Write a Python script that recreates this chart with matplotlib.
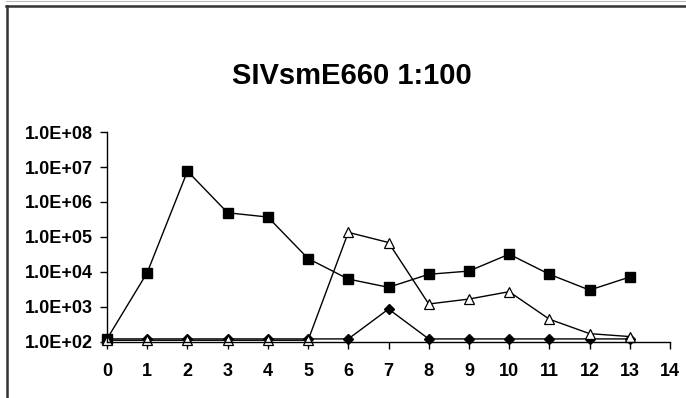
import math
import matplotlib.pyplot as plt
from matplotlib.lines import Line2D
import matplotlib.ticker as mticker

plt.rcParams['font.family'] = ['Liberation Sans', 'DejaVu Sans']

days = list(range(14))
squares = [1.2e2, 9.5e3, 7.6e6, 4.9e5, 3.7e5, 2.4e4, 6.2e3, 3.6e3, 8.5e3, 1.05e4, 3.2e4, 8.5e3, 3.0e3, 7.1e3]
diamonds = [1.2e2, 1.2e2, 1.2e2, 1.2e2, 1.2e2, 1.2e2, 1.2e2, 8.6e2, 1.2e2, 1.2e2, 1.2e2, 1.2e2, 1.2e2, 1.2e2]
triangles = [1.1e2, 1.1e2, 1.1e2, 1.1e2, 1.1e2, 1.1e2, 1.35e5, 6.9e4, 1.2e3, 1.66e3, 2.7e3, 4.4e2, 1.7e2, 1.4e2]

fig = plt.figure(figsize=(6.86, 3.98), dpi=100)
ax = fig.add_axes([0.156, 0.1415, 0.8207, 0.5266])

ax.plot(days, squares, color='black', lw=1.0, marker='s', ms=6.5, mfc='black', mec='black')
ax.plot(days, diamonds, color='black', lw=1.0, marker='D', ms=5, mfc='black', mec='black')
ax.plot(days, triangles, color='black', lw=1.0, marker='^', ms=7, mfc='white', mec='black', mew=0.9)

ax.set_yscale('log')
ax.set_ylim(1e2, 1e8)
ax.set_xlim(0, 14)
ax.set_xticks(range(15))
ax.yaxis.set_major_locator(mticker.LogLocator(base=10, numticks=10))
ax.yaxis.set_minor_locator(mticker.NullLocator())
ax.yaxis.set_major_formatter(mticker.FuncFormatter(lambda v, p: '1.0E+%02d' % round(math.log10(v))))

for s in ['top', 'right']:
    ax.spines[s].set_visible(False)
for s in ['left', 'bottom']:
    ax.spines[s].set_linewidth(1.0)
for line in ax.get_lines():
    line.set_clip_on(False)

ax.tick_params(axis='y', direction='out', length=5, width=1, pad=5, labelsize=13)
ax.tick_params(axis='x', direction='out', length=5, width=1, pad=10, labelsize=13)
for lab in ax.get_xticklabels() + ax.get_yticklabels():
    lab.set_fontweight('bold')

fig.text(0.513, 0.81, 'SIVsmE660 1:100', ha='center', va='center', fontsize=21, fontweight='bold')

# chart frame
h = 398.0
w = 686.0
fig.add_artist(Line2D([6 / w, 1], [1 - 1.2 / h, 1 - 1.2 / h], color='#bbbbbb', lw=0.8))
fig.add_artist(Line2D([6 / w, 1], [1 - 5.5 / h, 1 - 5.5 / h], color='#333333', lw=1.8))
fig.add_artist(Line2D([6.5 / w, 6.5 / w], [1 - 5.5 / h, 0], color='#333333', lw=1.8))

fig.savefig('out.png', dpi=100)
